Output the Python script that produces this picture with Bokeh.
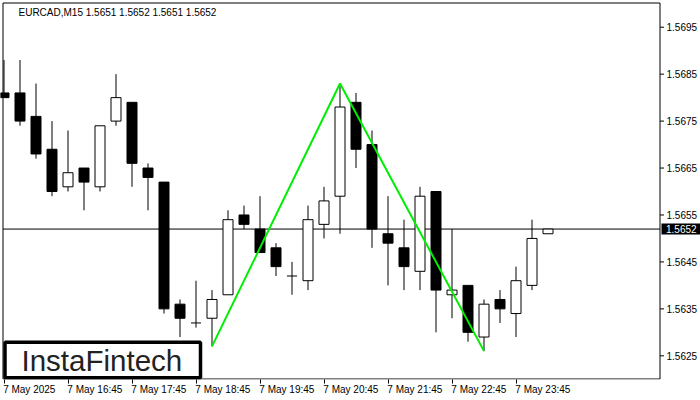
from bokeh.plotting import figure
from bokeh.models import FixedTicker
from bokeh.embed import file_html
from bokeh.resources import INLINE
from bokeh.core.properties import value

# ---------------- data ----------------
symbol = "EURCAD,M15"
times = ["15:45", "16:00", "16:15", "16:30", "16:45", "17:00", "17:15", "17:30", "17:45",
         "18:00", "18:15", "18:30", "18:45", "19:00", "19:15", "19:30", "19:45", "20:00",
         "20:15", "20:30", "20:45", "21:00", "21:15", "21:30", "21:45", "22:00", "22:15",
         "22:30", "22:45", "23:00", "23:15", "23:30", "23:45", "00:00", "00:15"]
opens = [1.5681, 1.5681, 1.5676, 1.5669, 1.5661, 1.5665, 1.5661, 1.5675, 1.5679, 1.5665,
         1.5662, 1.5636, 1.5632, 1.5633, 1.5638, 1.5655, 1.5652, 1.5648, 1.5642, 1.5641,
         1.5653, 1.5659, 1.5679, 1.5670, 1.5651, 1.5648, 1.5643, 1.5660, 1.5638, 1.5640,
         1.5629, 1.5637, 1.5634, 1.5640, 1.5651]
highs = [1.5688, 1.5688, 1.5683, 1.5675, 1.5673, 1.5665, 1.5674, 1.5685, 1.5679, 1.5666,
         1.5662, 1.5637, 1.5641, 1.5639, 1.5656, 1.5657, 1.5659, 1.5649, 1.5645, 1.5657,
         1.5661, 1.5683, 1.5681, 1.5673, 1.5659, 1.5654, 1.5661, 1.5660, 1.5652, 1.5640,
         1.5637, 1.5639, 1.5644, 1.5654, 1.5652]
lows = [1.5680, 1.5674, 1.5667, 1.5659, 1.5660, 1.5656, 1.5660, 1.5674, 1.5661, 1.5656,
        1.5634, 1.5629, 1.5631, 1.5627, 1.5638, 1.5652, 1.5647, 1.5642, 1.5638, 1.5639,
        1.5650, 1.5651, 1.5665, 1.5648, 1.5640, 1.5639, 1.5639, 1.5630, 1.5633, 1.5628,
        1.5626, 1.5632, 1.5629, 1.5639, 1.5651]
closes = [1.5680, 1.5675, 1.5668, 1.5660, 1.5664, 1.5662, 1.5674, 1.5680, 1.5666, 1.5663,
          1.5635, 1.5633, 1.5632, 1.5637, 1.5654, 1.5653, 1.5647, 1.5644, 1.5642, 1.5654,
          1.5658, 1.5678, 1.5669, 1.5652, 1.5649, 1.5644, 1.5659, 1.5639, 1.5639, 1.5630,
          1.5636, 1.5635, 1.5641, 1.5650, 1.5652]
last_price = 1.5652
pattern_bars = [13, 21, 30]
pattern_prices = [1.5627, 1.5683, 1.5626]
x_tick_bars = [0, 4, 8, 12, 16, 20, 24, 28, 32]
x_tick_labels = ["7 May 2025", "7 May 16:45", "7 May 17:45", "7 May 18:45", "7 May 19:45",
                 "7 May 20:45", "7 May 21:45", "7 May 22:45", "7 May 23:45"]
y_ticks = [1.5625, 1.5635, 1.5645, 1.5655, 1.5665, 1.5675, 1.5685, 1.5695]
logo_text = "InstaFintech"

# ---------------- layout (pixel geometry of the canvas) ----------------
W, H = 700, 400
AXIS_H = 21                  # bottom axis band
FRAME_H = H - AXIS_H
PX_BAR = 16.0                # pixels per bar
PX_PRICE = 46940.0           # pixels per price unit
x_start = -3.5 / PX_BAR      # bar 0 centred at 3.5 px
x_end = x_start + W / PX_BAR
y_end = 1.5625 + 355.3 / PX_PRICE
y_start = y_end - FRAME_H / PX_PRICE


def X(px):
    return x_start + px / PX_BAR


def Y(py):
    return y_end - py / PX_PRICE


FONT = "Liberation Sans"
CHART_L, CHART_R, CHART_T, CHART_B = 2.5, 659.5, 2.5, 378.5

p = figure(width=W, height=H, x_range=(x_start, x_end), y_range=(y_start, y_end),
           y_axis_location=None, output_backend="svg", toolbar_location=None,
           min_border_left=0, min_border_top=0, min_border_right=0,
           min_border_bottom=AXIS_H, background_fill_color="white",
           border_fill_color="white", outline_line_color=None)
p.grid.visible = False

# ---------------- chart border ----------------
p.line(x=[X(CHART_L), X(CHART_R), X(CHART_R), X(CHART_L), X(CHART_L)],
       y=[Y(CHART_T), Y(CHART_T), Y(CHART_B), Y(CHART_B), Y(CHART_T)],
       line_color="black", line_width=1)

# last price line
p.segment(x0=[X(CHART_L)], x1=[X(CHART_R)], y0=[last_price], y1=[last_price],
          line_color="black", line_width=1)

# ---------------- candles ----------------
idx = list(range(len(opens)))
p.segment(x0=idx, y0=lows, x1=idx, y1=highs, line_color="black", line_width=1)

body_w = 10 / PX_BAR
up = [i for i in idx if closes[i] > opens[i]]
dn = [i for i in idx if closes[i] < opens[i]]
dj = [i for i in idx if closes[i] == opens[i]]

p.vbar(x=up, width=body_w, top=[closes[i] for i in up], bottom=[opens[i] for i in up],
       fill_color="white", line_color="black", line_width=1)
p.vbar(x=dn, width=body_w, top=[opens[i] for i in dn], bottom=[closes[i] for i in dn],
       fill_color="black", line_color="black", line_width=1)
p.segment(x0=[i - body_w / 2 for i in dj], x1=[i + body_w / 2 for i in dj],
          y0=[opens[i] for i in dj], y1=[closes[i] for i in dj], line_color="black", line_width=1)

# pattern line
p.line(x=pattern_bars, y=pattern_prices, line_color="#00ee00", line_width=2)

# ---------------- price scale (right) ----------------
p.segment(x0=[X(CHART_R)] * len(y_ticks), x1=[X(CHART_R + 4)] * len(y_ticks),
          y0=y_ticks, y1=y_ticks, line_color="black", line_width=1)
p.text(x=[X(666)] * len(y_ticks), y=y_ticks, text=[f"{t:.4f}" for t in y_ticks],
       text_font=value(FONT), text_font_size="10px", text_color="black",
       text_baseline="middle", text_align="left")

# current price tag
p.quad(left=[X(661)], right=[X(W + 1)], top=[last_price + 5.5 / PX_PRICE],
       bottom=[last_price - 5.5 / PX_PRICE], fill_color="black", line_color=None)
p.text(x=[X(665.5)], y=[last_price], text=[f"{last_price:.4f}"],
       text_font=value(FONT), text_font_size="10px", text_color="white",
       text_baseline="middle", text_align="left")

# ---------------- title ----------------
last = len(opens) - 1
title = f"{symbol}  {opens[last]:.4f} {highs[last]:.4f} {lows[last]:.4f} {closes[last]:.4f}"
p.text(x=[X(18)], y=[Y(6)], text=[title], text_font=value(FONT), text_font_size="10px",
       text_color="black", text_baseline="top", text_align="left")

# ---------------- logo ----------------
p.quad(left=[X(4.5)], right=[X(200)], top=[Y(341.75)], bottom=[Y(377.25)],
       fill_color="white", line_color="black", line_width=3.5)
p.text(x=[X(21)], y=[Y(343)], text=[logo_text], text_font=value(FONT),
       text_font_size="29.5px", text_color="#222222", text_baseline="top",
       text_align="left")

# ---------------- time axis (bottom) ----------------
shift = [1.58] + [1.68] * (len(x_tick_bars) - 1)
major = [round(b + s, 3) for b, s in zip(x_tick_bars, shift)]
xa = p.xaxis[0]
xa.ticker = FixedTicker(ticks=major, minor_ticks=x_tick_bars)
xa.major_label_overrides = {m: lab for m, lab in zip(major, x_tick_labels)}
xa.major_tick_line_color = None
xa.major_tick_out = 4
xa.major_tick_in = 0
xa.minor_tick_out = 4
xa.minor_tick_in = 0
xa.minor_tick_line_color = "black"
xa.axis_line_color = None
xa.major_label_standoff = 0
xa.major_label_text_font = FONT
xa.major_label_text_font_size = "10px"
xa.major_label_text_color = "black"

open("out.html", "w").write(file_html(p, INLINE))
